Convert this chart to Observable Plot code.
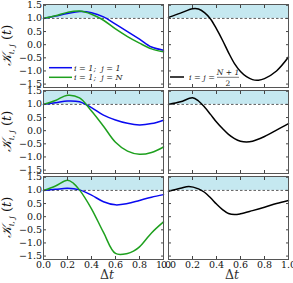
<!DOCTYPE html>
<html><head><meta charset="utf-8">
<script src="https://cdn.jsdelivr.net/npm/d3@7"></script>
<script src="https://cdn.jsdelivr.net/npm/@observablehq/plot@0.6"></script>
<style>
body{margin:0;background:#fff}
#fig{position:relative;width:293px;height:283px;overflow:hidden}
#fig svg{position:absolute}
</style></head><body><div id="fig"></div>
<script>
// ---- data ----
const xTicks = [0, 0.2, 0.4, 0.6, 0.8, 1.0];
const yTicks = [-1.5, -1.0, -0.5, 0.0, 0.5, 1.0, 1.5];
const yDomain = [-1.63, 1.53];
const threshold = 1.0;

// top row, left: i=1;j=1 (blue) and i=1;j=N (green)
const tTopLeft = [0, 0.1, 0.2, 0.3, 0.4, 0.5, 0.6, 0.7, 0.8, 0.9, 1.0];
const kTopLeft11 = [1.0, 1.09, 1.19, 1.26, 1.22, 1.06, 0.78, 0.5, 0.21, -0.09, -0.21];
const kTopLeft1N = [1.0, 1.1, 1.23, 1.28, 1.16, 0.93, 0.6, 0.31, 0.06, -0.16, -0.27];
// middle row, left
const tMidLeft = [0, 0.1, 0.2, 0.3, 0.4, 0.5, 0.6, 0.7, 0.8, 0.9, 1.0];
const kMidLeft11 = [1.0, 1.06, 1.13, 1.1, 0.88, 0.59, 0.41, 0.28, 0.22, 0.27, 0.4];
const kMidLeft1N = [1.0, 1.15, 1.35, 1.25, 0.75, 0.17, -0.44, -0.78, -0.9, -0.83, -0.62];
// bottom row, left
const tBotLeft11 = [0, 0.1, 0.2, 0.3, 0.4, 0.5, 0.6, 0.7, 0.8, 0.9, 1.0];
const kBotLeft11 = [1.0, 1.04, 1.08, 1.02, 0.82, 0.57, 0.45, 0.5, 0.62, 0.74, 0.84];
const tBotLeft1N = [0, 0.1, 0.2, 0.25, 0.3, 0.4, 0.5, 0.6, 0.7, 0.75, 0.8, 0.9, 1.0];
const kBotLeft1N = [1.0, 1.17, 1.39, 1.27, 1.02, 0.3, -0.6, -1.4, -1.4, -1.31, -1.15, -0.62, -0.2];
// right column: i = j = (N+1)/2 (black)
const tTopRight = [0, 0.1, 0.2, 0.25, 0.3, 0.35, 0.4, 0.45, 0.5, 0.55, 0.6, 0.65, 0.7, 0.75, 0.8, 0.9, 1.0];
const kTopRight = [1.04, 1.2, 1.37, 1.36, 1.22, 0.98, 0.6, 0.17, -0.3, -0.72, -1.02, -1.22, -1.33, -1.35, -1.29, -1.0, -0.47];
const tMidRight = [0, 0.1, 0.2, 0.25, 0.3, 0.35, 0.4, 0.45, 0.5, 0.55, 0.6, 0.65, 0.7, 0.8, 0.9, 1.0];
const kMidRight = [1.0, 1.1, 1.25, 1.13, 0.9, 0.62, 0.33, 0.08, -0.14, -0.3, -0.4, -0.43, -0.4, -0.22, 0.02, 0.27];
const tBotRight = [0, 0.1, 0.17, 0.25, 0.3, 0.35, 0.4, 0.45, 0.5, 0.55, 0.6, 0.7, 0.8, 0.9, 1.0];
const kBotRight = [0.97, 1.08, 1.15, 1.06, 0.93, 0.72, 0.48, 0.27, 0.12, 0.08, 0.11, 0.23, 0.36, 0.5, 0.62];

const legendLeft = ["i = 1;  j = 1", "i = 1;  j = N"];
const legendRight = {pre: "i = j =", num: "N + 1", den: "2"};

// ---- styling ----
const BLUE = "#0a0af0", GREEN = "#1ea01e", BLACK = "#000";
const SHADE = "#c5e8f0";
const FONT = "DejaVu Serif";
const PW = 120, PH = 83;
const rowTops = [4, 89.5, 176];
const colLefts = [43, 168];

const panels = [
  {row: 0, col: 0, series: [{t: tTopLeft, k: kTopLeft11, c: BLUE}, {t: tTopLeft, k: kTopLeft1N, c: GREEN}], legend: "left"},
  {row: 0, col: 1, series: [{t: tTopRight, k: kTopRight, c: BLACK}], legend: "right"},
  {row: 1, col: 0, series: [{t: tMidLeft, k: kMidLeft11, c: BLUE}, {t: tMidLeft, k: kMidLeft1N, c: GREEN}]},
  {row: 1, col: 1, series: [{t: tMidRight, k: kMidRight, c: BLACK}]},
  {row: 2, col: 0, series: [{t: tBotLeft11, k: kBotLeft11, c: BLUE}, {t: tBotLeft1N, k: kBotLeft1N, c: GREEN}]},
  {row: 2, col: 1, series: [{t: tBotRight, k: kBotRight, c: BLACK}]}
];

const fmt = d => d.toFixed(1).replace("-", "\u2212");
const fig = document.getElementById("fig");

for (const p of panels) {
  const left = p.col === 0, bottom = p.row === 2;
  const ml = left ? 43 : 5, mr = 5, mb = bottom ? 26 : 0;
  const marks = [
    Plot.rect([{x1: 0, x2: 1, y1: threshold, y2: yDomain[1]}], {x1: "x1", x2: "x2", y1: "y1", y2: "y2", fill: SHADE}),
    Plot.ruleY([threshold], {stroke: "#333", strokeWidth: 0.8, strokeDasharray: "2.5,2"}),
    ...p.series.map(s => Plot.line(s.t.map((t, i) => ({t, k: s.k[i]})), {x: "t", y: "k", stroke: s.c, strokeWidth: 1.5, curve: "catmull-rom"})),
    Plot.axisY(yTicks, {anchor: "left", tickSize: -3, fill: "none", label: null, stroke: "#444"}),
    Plot.axisY(yTicks, {anchor: "right", tickSize: -3, fill: "none", label: null, stroke: "#444"}),
    Plot.axisX(xTicks, {anchor: "top", tickSize: -3, fill: "none", label: null, stroke: "#444"}),
    Plot.axisX(xTicks, {anchor: "bottom", tickSize: -3, fill: "none", label: null, stroke: "#444"}),
    Plot.frame({stroke: "#555"})
  ];
  if (left) marks.push(Plot.axisY(yTicks, {anchor: "left", tickSize: 0, tickPadding: 1.5, tickFormat: fmt, label: null, fill: "#111"}));
  if (bottom) marks.push(Plot.axisX(xTicks, {anchor: "bottom", tickSize: 0, tickPadding: 1.5, tickFormat: fmt, label: null, fill: "#111"}));

  const svg = Plot.plot({
    width: ml + PW + mr, height: PH + mb,
    marginLeft: ml, marginRight: mr, marginTop: 0, marginBottom: mb,
    style: {background: "transparent", overflow: "visible", fontFamily: FONT, fontSize: "9.5px", maxWidth: "none"},
    x: {domain: [0, 1]},
    y: {domain: yDomain},
    marks
  });
  svg.style.left = (colLefts[p.col] - ml) + "px";
  svg.style.top = rowTops[p.row] + "px";
  svg.style.overflow = "visible";
  const s = d3.select(svg);

  if (left) {
    const tx = s.append("text")
      .attr("transform", `translate(${ml - 32},${PH / 2}) rotate(-90)`)
      .attr("text-anchor", "middle").attr("font-family", FONT).attr("font-size", 13).attr("fill", "#111");
    tx.append("tspan").attr("font-style", "italic").text("\u{1D4A6}");
    tx.append("tspan").attr("font-size", 8).attr("font-style", "italic").attr("dy", 3).text("i, j");
    tx.append("tspan").attr("dy", -3).text(" (");
    tx.append("tspan").attr("font-style", "italic").text("t");
    tx.append("tspan").text(")");
  }
  if (bottom) {
    const lx = s.append("text").attr("x", ml + PW / 2 + 4).attr("y", PH + 20)
      .attr("text-anchor", "middle").attr("font-family", FONT).attr("font-size", 12.5).attr("fill", "#333");
    lx.append("tspan").text("\u0394");
    lx.append("tspan").attr("font-style", "italic").text("t");
  }
  if (p.legend === "left") {
    const items = [[legendLeft[0], BLUE, 63.7], [legendLeft[1], GREEN, 73.3]];
    for (const [label, c, y] of items) {
      s.append("line").attr("x1", ml + 6).attr("x2", ml + 29).attr("y1", y).attr("y2", y).attr("stroke", c).attr("stroke-width", 1.5);
      s.append("text").attr("x", ml + 31).attr("y", y + 2.8).attr("text-anchor", "start").attr("font-family", FONT).attr("font-size", 8)
        .attr("font-style", "italic").attr("fill", "#222").style("white-space", "pre").text(label);
    }
  }
  if (p.legend === "right") {
    s.append("line").attr("x1", ml + 2).attr("x2", ml + 16).attr("y1", 73).attr("y2", 73).attr("stroke", BLACK).attr("stroke-width", 1.5);
    s.append("text").attr("x", ml + 21).attr("y", 75.8).attr("text-anchor", "start").attr("font-family", FONT).attr("font-size", 8)
      .attr("font-style", "italic").attr("fill", "#222").text(legendRight.pre);
    s.append("text").attr("x", ml + 60).attr("y", 70.5).attr("text-anchor", "middle").attr("font-family", FONT).attr("font-size", 7.5)
      .attr("font-style", "italic").attr("fill", "#222").text(legendRight.num);
    s.append("line").attr("x1", ml + 49).attr("x2", ml + 71).attr("y1", 73.3).attr("y2", 73.3).attr("stroke", "#222").attr("stroke-width", 0.6);
    s.append("text").attr("x", ml + 60).attr("y", 81.5).attr("text-anchor", "middle").attr("font-family", FONT).attr("font-size", 7.5)
      .attr("fill", "#222").text(legendRight.den);
  }
  fig.appendChild(svg);
}
</script></body></html>
